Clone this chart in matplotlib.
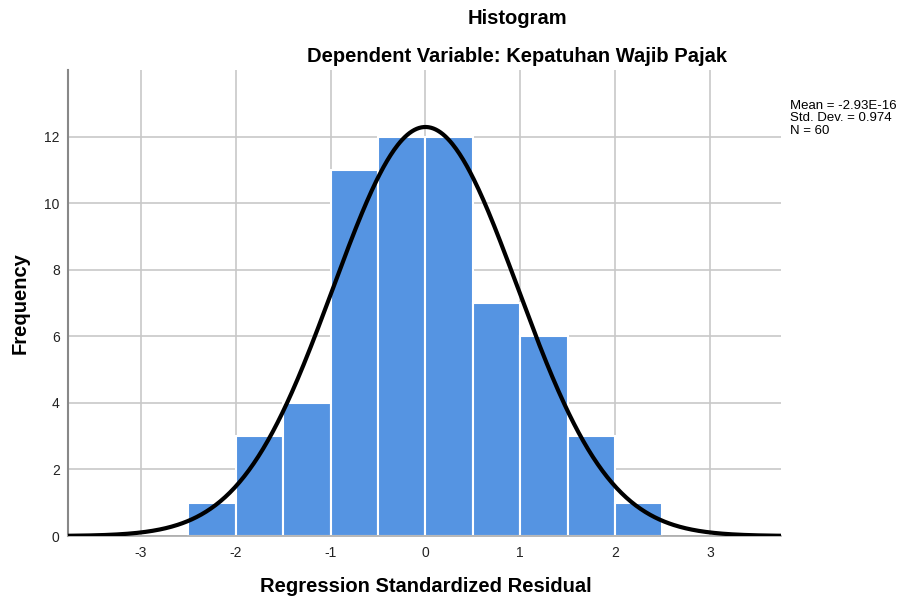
import numpy as np
import matplotlib
matplotlib.use("Agg")
import matplotlib.pyplot as plt

bin_edges = [-2.5, -2.0, -1.5, -1.0, -0.5, 0.0, 0.5, 1.0, 1.5, 2.0, 2.5]
counts = [1, 3, 4, 11, 12, 12, 7, 6, 3, 1]
mean = -2.93e-16
std = 0.974
n = 60
xticks = [-3, -2, -1, 0, 1, 2, 3]
yticks = [0, 2, 4, 6, 8, 10, 12]

plt.rcParams['font.family'] = ['Liberation Sans', 'DejaVu Sans']
fig = plt.figure(figsize=(9.01, 6.03), dpi=100)
ax = fig.add_axes([68/901, 1-536/603, (781-68)/901, (536-70)/603])

left = np.array(bin_edges[:-1])
widths = np.diff(bin_edges)
ax.bar(left, counts, width=widths, align='edge', color='#5594e2',
       edgecolor='white', linewidth=1.5, zorder=2)

xs = np.linspace(-3.77, 3.75, 600)
bw = widths[0]
ys = n * bw * np.exp(-0.5 * ((xs - mean) / std) ** 2) / (std * np.sqrt(2 * np.pi))
ax.plot(xs, ys, color='black', lw=3, zorder=3, solid_capstyle='round')

ax.set_xlim(-3.77, 3.75)
ax.set_ylim(0, 14)
ax.set_xticks(xticks)
ax.set_yticks(yticks)
ax.set_xticklabels([str(t) for t in xticks])
ax.set_yticklabels([str(t) for t in yticks])
ax.tick_params(length=0, labelsize=10, colors='#222222')
ax.tick_params(axis='y', pad=6)
ax.tick_params(axis='x', pad=7)
ax.grid(True, color='#c8c8c8', lw=1.2, zorder=0)
ax.set_axisbelow(True)
for s in ['top', 'right']:
    ax.spines[s].set_visible(False)
ax.spines['left'].set_color('#888888')
ax.spines['left'].set_linewidth(1.5)
ax.spines['bottom'].set_color('#aaaaaa')
ax.spines['bottom'].set_linewidth(1.2)

fig.text(517/901, 1-19/603, 'Histogram', ha='center', va='center', fontsize=14.5, fontweight='bold')
fig.text(517/901, 1-56/603, 'Dependent Variable: Kepatuhan Wajib Pajak', ha='center', va='center',
         fontsize=14.5, fontweight='bold')
fig.text(20/901, 1-303/603, 'Frequency', rotation=90, ha='center', va='center', fontsize=14.5, fontweight='bold')
fig.text(426/901, 1-586/603, 'Regression Standardized Residual', ha='center', va='center',
         fontsize=14.5, fontweight='bold')
fig.text(790/901, 1-118.5/603, 'Mean = -2.93E-16\nStd. Dev. = 0.974\nN = 60', ha='left', va='center',
         fontsize=9.5, linespacing=1.1)

fig.savefig('out.png', dpi=100)
